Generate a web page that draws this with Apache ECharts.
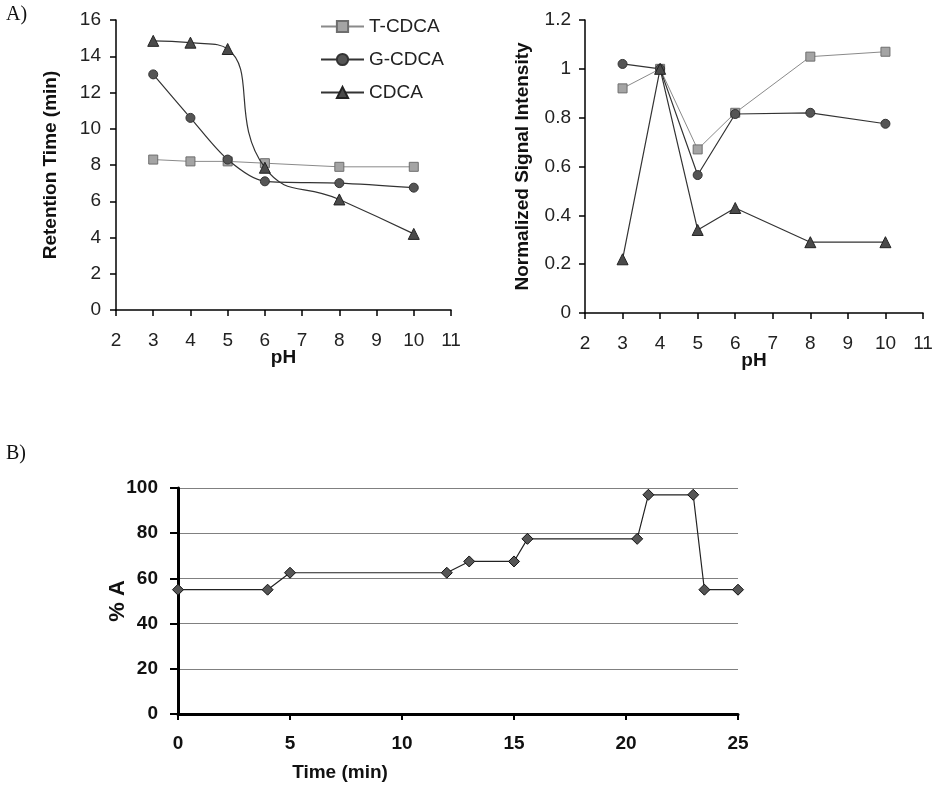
<!DOCTYPE html>
<html>
<head>
<meta charset="utf-8">
<script src="https://cdn.jsdelivr.net/npm/echarts@6/dist/echarts.min.js"></script>
<style>
html,body{margin:0;padding:0;background:#fff;}
#c{width:939px;height:788px;}
</style>
</head>
<body>
<div id="c"></div>
<script>
// ---- data ----
const seriesNames = ['T-CDCA', 'G-CDCA', 'CDCA'];
const phValues = [3, 4, 5, 6, 8, 10];
const retentionT = [8.3, 8.2, 8.2, 8.1, 7.9, 7.9];
const retentionG = [13.0, 10.6, 8.3, 7.1, 7.0, 6.75];
const retentionC = [14.85, 14.75, 14.4, 7.85, 6.1, 4.2];
const signalT = [0.92, 1.0, 0.67, 0.82, 1.05, 1.07];
const signalG = [1.02, 1.0, 0.565, 0.815, 0.82, 0.775];
const signalC = [0.22, 1.0, 0.34, 0.43, 0.29, 0.29];
const gradientTime = [0, 4, 5, 12, 13, 15, 15.6, 20.5, 21, 23, 23.5, 25];
const gradientPctA = [55, 55, 62.5, 62.5, 67.5, 67.5, 77.5, 77.5, 97, 97, 55, 55];

const zip = (xs, ys) => xs.map((x, i) => [x, ys[i]]);
const FONT = 'Liberation Sans, Arial, sans-serif';

const styles = {
  'T-CDCA': { symbol: 'rect', symbolSize: 9, item: { color: '#a4a4a4', borderColor: '#6e6e6e', borderWidth: 1 }, line: { color: '#8a8a8a', width: 1 } },
  'G-CDCA': { symbol: 'circle', symbolSize: 9, item: { color: '#555', borderColor: '#333', borderWidth: 1 }, line: { color: '#333', width: 1.2 } },
  'CDCA':   { symbol: 'triangle', symbolSize: 11, item: { color: '#4a4a4a', borderColor: '#222', borderWidth: 1 }, line: { color: '#333', width: 1.2 } }
};

function mk(name, data, gridIdx, smooth) {
  const s = styles[name];
  return {
    name, type: 'line', xAxisIndex: gridIdx, yAxisIndex: gridIdx,
    data, smooth: smooth || false, symbol: s.symbol, symbolSize: s.symbolSize,
    showSymbol: true, itemStyle: s.item, lineStyle: s.line, z: name === 'T-CDCA' ? 3 : 4
  };
}

function xAxisA(idx) {
  return {
    gridIndex: idx, type: 'value', min: 2, max: 11, interval: 1,
    name: 'pH', nameLocation: 'middle', nameGap: 38, nameMoveOverlap: false,
    nameTextStyle: { fontFamily: FONT, fontSize: 19, fontWeight: 'bold', color: '#111' },
    axisLine: { show: true, onZero: false, lineStyle: { color: '#000', width: 1.5 } },
    axisTick: { show: true, length: 6, lineStyle: { color: '#000', width: 1.5 } },
    axisLabel: { margin: 21, fontFamily: FONT, fontSize: 19, color: '#222' },
    splitLine: { show: false }
  };
}

const option = {
  animation: false,
  backgroundColor: '#fff',
  legend: {
    data: seriesNames, orient: 'vertical', left: 315, top: 12,
    itemWidth: 43, itemHeight: 14, itemGap: 14,
    textStyle: { fontFamily: FONT, fontSize: 19, color: '#222', lineHeight: 19 }
  },
  grid: [
    { left: 116, right: 488, top: 20, bottom: 478 },
    { left: 585, right: 16, top: 20, bottom: 475 },
    { left: 178, right: 201, top: 488, bottom: 74 }
  ],
  xAxis: [
    xAxisA(0),
    xAxisA(1),
    {
      gridIndex: 2, type: 'value', min: 0, max: 25, interval: 5,
      name: 'Time (min)', nameLocation: 'middle', nameGap: 49, nameMoveOverlap: false,
      nameTextStyle: { fontFamily: FONT, fontSize: 19, fontWeight: 'bold', color: '#111', padding: [0, 236, 0, 0] },
      axisLine: { show: true, onZero: false, lineStyle: { color: '#000', width: 3 } },
      axisTick: { show: true, length: 6, lineStyle: { color: '#000', width: 2 } },
      axisLabel: { margin: 20, fontFamily: FONT, fontSize: 19, fontWeight: 'bold', color: '#111' },
      splitLine: { show: false }
    }
  ],
  yAxis: [
    {
      gridIndex: 0, type: 'value', min: 0, max: 16, interval: 2,
      name: 'Retention Time (min)', nameLocation: 'middle', nameGap: 56, nameMoveOverlap: false,
      nameTextStyle: { fontFamily: FONT, fontSize: 19, fontWeight: 'bold', color: '#111' },
      axisLine: { show: true, lineStyle: { color: '#000', width: 1.5 } },
      axisTick: { show: true, length: 6, lineStyle: { color: '#000', width: 1.5 } },
      axisLabel: { margin: 15, fontFamily: FONT, fontSize: 19, color: '#222' },
      splitLine: { show: false }
    },
    {
      gridIndex: 1, type: 'value', min: 0, max: 1.2, interval: 0.2,
      name: 'Normalized Signal Intensity', nameLocation: 'middle', nameGap: 53, nameMoveOverlap: false,
      nameTextStyle: { fontFamily: FONT, fontSize: 19, fontWeight: 'bold', color: '#111' },
      axisLine: { show: true, lineStyle: { color: '#000', width: 1.5 } },
      axisTick: { show: true, length: 6, lineStyle: { color: '#000', width: 1.5 } },
      axisLabel: { margin: 14, fontFamily: FONT, fontSize: 19, color: '#222',
        formatter: v => String(Math.round(v * 10) / 10) },
      splitLine: { show: false }
    },
    {
      gridIndex: 2, type: 'value', min: 0, max: 100, interval: 20,
      name: '% A', nameLocation: 'middle', nameGap: 49, nameMoveOverlap: false,
      nameTextStyle: { fontFamily: FONT, fontSize: 22, fontWeight: 'bold', color: '#111' },
      axisLine: { show: true, lineStyle: { color: '#000', width: 3 } },
      axisTick: { show: true, length: 8, lineStyle: { color: '#000', width: 2 } },
      axisLabel: { margin: 20, fontFamily: FONT, fontSize: 19, fontWeight: 'bold', color: '#111' },
      splitLine: { show: true, lineStyle: { color: '#808080', width: 1 } }
    }
  ],
  graphic: [
    { type: 'text', left: 6, top: 5, style: { text: 'A)', font: '20px "Liberation Serif", "Times New Roman", serif', fill: '#111' } },
    { type: 'text', left: 6, top: 444, style: { text: 'B)', font: '20px "Liberation Serif", "Times New Roman", serif', fill: '#111' } }
  ],
  series: [
    mk('T-CDCA', zip(phValues, retentionT), 0, false),
    mk('G-CDCA', zip(phValues, retentionG), 0, 0.3),
    mk('CDCA', zip(phValues, retentionC), 0, 0.5),
    mk('T-CDCA', zip(phValues, signalT), 1, false),
    mk('G-CDCA', zip(phValues, signalG), 1, false),
    mk('CDCA', zip(phValues, signalC), 1, false),
    {
      name: 'Gradient', type: 'line', xAxisIndex: 2, yAxisIndex: 2,
      data: zip(gradientTime, gradientPctA),
      symbol: 'diamond', symbolSize: 11,
      itemStyle: { color: '#555', borderColor: '#111', borderWidth: 1 },
      lineStyle: { color: '#222', width: 1.2 }
    }
  ]
};

const chart = echarts.init(document.getElementById('c'), null, { renderer: 'canvas' });
chart.setOption(option);
</script>
</body>
</html>
